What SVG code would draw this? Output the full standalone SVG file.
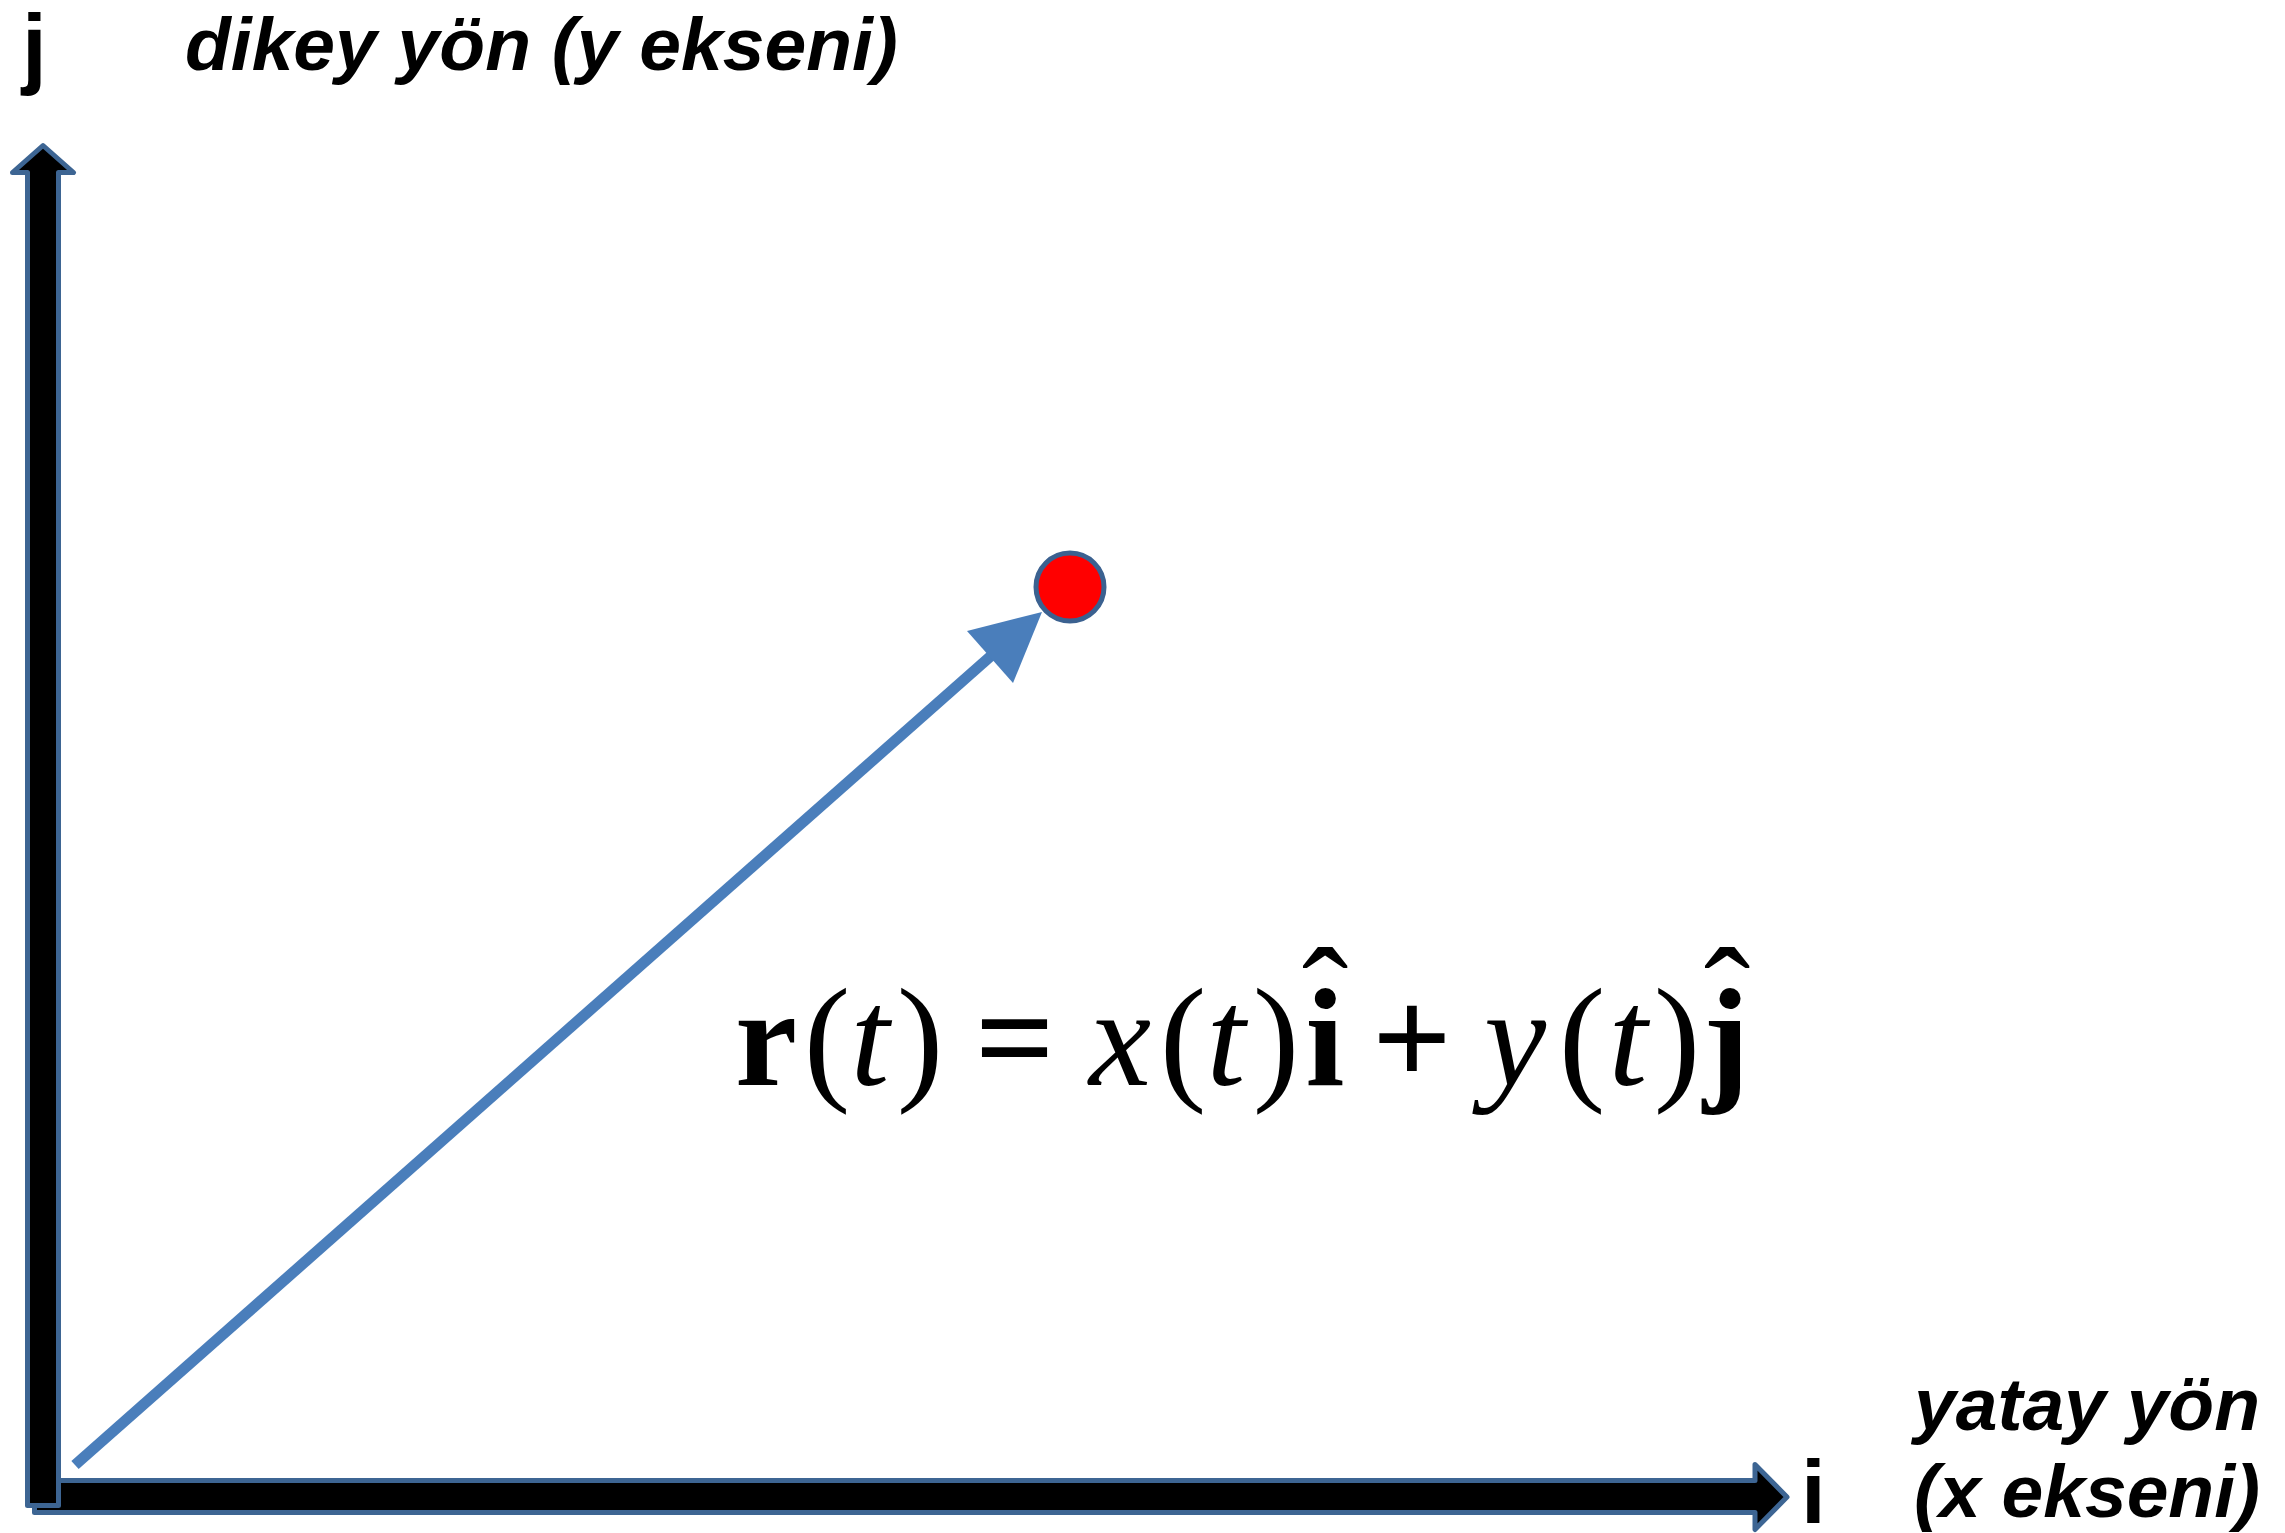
<svg xmlns="http://www.w3.org/2000/svg" width="2285" height="1533" viewBox="0 0 2285 1533">
<style>
.axis{fill:#000;stroke:#3d6593;stroke-width:5;stroke-linejoin:round}
.lbl{font-family:"Liberation Sans",Arial,sans-serif;font-size:75px;font-weight:bold;font-style:italic;fill:#000}
.unit{font-family:"Liberation Sans",Arial,sans-serif;font-size:89px;font-weight:bold;fill:#000}
.m{font-family:"Liberation Serif","Times New Roman",serif;font-size:140px;fill:#000;text-anchor:middle}
.b{font-weight:bold}
.it{font-style:italic}
.vec{stroke:#4a7ebb;stroke-width:11;fill:none}
</style>
<rect width="2285" height="1533" fill="#fff"/>
<g id="x-axis">
<polygon class="axis" points="34.5,1480.5 1755,1480.5 1755,1464.5 1787,1497 1755,1529.5 1755,1512.5 34.5,1512.5"/>
</g>
<g id="y-axis">
<polygon class="axis" points="43,145.5 73.5,172.5 58.5,172.5 58.5,1505.5 27.5,1505.5 27.5,172.5 12.5,172.5"/>
</g>
<g id="connectors">
<line class="vec" x1="75" y1="1465" x2="992" y2="655"/>
<polygon points="1042,612 967,631 1013,683" fill="#4a7ebb"/>
</g>
<g id="point">
<circle cx="1070" cy="587" r="34" fill="#ff0000" stroke="#3b6190" stroke-width="5"/>
</g>
<g id="labels">
<text class="unit" x="22" y="77">j</text>
<text class="lbl" x="185" y="70">dikey yön (y ekseni)</text>
<text class="unit" x="1801" y="1523">i</text>
<text class="lbl" x="1914" y="1430">yatay yön</text>
<text class="lbl" x="1914" y="1517">(x ekseni)</text>
</g>
<g id="formula">
<text class="m b" x="766" y="1085">r</text>
<text class="m" x="827" y="1085">(</text>
<text class="m it" x="870" y="1085">t</text>
<text class="m" x="920" y="1085">)</text>
<text class="m b" x="1015" y="1085">=</text>
<text class="m it" x="1120" y="1085">x</text>
<text class="m" x="1183" y="1085">(</text>
<text class="m it" x="1226" y="1085">t</text>
<text class="m" x="1276" y="1085">)</text>
<text class="m b" x="1325" y="1085">i</text>
<text class="m" x="1325" y="1045">ˆ</text>
<text class="m b" x="1412" y="1085">+</text>
<text class="m it" x="1515" y="1085">y</text>
<text class="m" x="1582" y="1085">(</text>
<text class="m it" x="1628" y="1085">t</text>
<text class="m" x="1677" y="1085">)</text>
<text class="m b" x="1726" y="1085">j</text>
<text class="m" x="1727" y="1045">ˆ</text>
</g>
</svg>
